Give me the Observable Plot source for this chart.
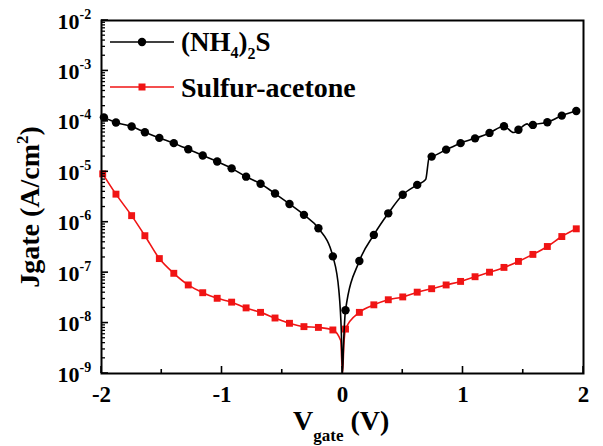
<!DOCTYPE html>
<html><head><meta charset="utf-8">
<script src="https://cdn.jsdelivr.net/npm/d3@7"></script>
<script src="https://cdn.jsdelivr.net/npm/@observablehq/plot@0.6"></script>
<style>
body{margin:0;background:#fff}
#chart{width:603px;height:446px}
</style>
</head><body><div id="chart"></div>
<script>
// (NH4)2S series: marker points
const nhV = [-1.98,-1.88,-1.75,-1.64,-1.52,-1.40,-1.28,-1.16,-1.04,-0.92,-0.80,-0.68,-0.56,-0.44,-0.32,-0.20,-0.08,0.025,0.14,0.26,0.38,0.50,0.62,0.74,0.86,0.98,1.10,1.22,1.34,1.46,1.58,1.70,1.82,1.94];
const nhJ = [1.2e-4,9.5e-5,7.9e-5,6.1e-5,4.7e-5,3.7e-5,2.8e-5,2.1e-5,1.6e-5,1.17e-5,8.0e-6,5.8e-6,3.7e-6,2.3e-6,1.4e-6,7.6e-7,2.1e-7,1.8e-8,1.7e-7,5.6e-7,1.5e-6,3.5e-6,5.5e-6,2.0e-5,2.75e-5,3.7e-5,4.6e-5,5.9e-5,8.0e-5,6.8e-5,8.5e-5,9.6e-5,1.3e-4,1.6e-4];
// (NH4)2S series: measured points between markers (line only)
const nhLineV = [-0.03,-0.01,0,0.008,0.69,0.72,1.42,1.533,1.56];
const nhLineJ = [4.4e-8,7e-9,1e-9,3.5e-9,7.0e-6,1.95e-5,6.0e-5,8.9e-5,7.9e-5];

// Sulfur-acetone series: marker points
const saV = [-1.99,-1.88,-1.75,-1.64,-1.52,-1.40,-1.28,-1.16,-1.04,-0.92,-0.80,-0.68,-0.56,-0.44,-0.32,-0.20,-0.08,0.025,0.14,0.26,0.38,0.50,0.62,0.74,0.86,0.98,1.10,1.22,1.34,1.46,1.58,1.70,1.82,1.94];
const saJ = [9.1e-6,3.6e-6,1.35e-6,5.4e-7,1.9e-7,9.7e-8,5.7e-8,4.0e-8,3.1e-8,2.6e-8,2.0e-8,1.63e-8,1.26e-8,9.9e-9,8.5e-9,8.2e-9,7.3e-9,7.6e-9,1.63e-8,2.3e-8,2.9e-8,3.3e-8,4.1e-8,4.8e-8,5.7e-8,6.7e-8,8.3e-8,1.02e-7,1.27e-7,1.67e-7,2.3e-7,3.3e-7,5.2e-7,7.4e-7];
const saLineV = [-0.015,0,0.012];
const saLineJ = [4.5e-9,1e-9,4e-9];

const seriesNames = ["(NH4)2S","Sulfur-acetone"];
const seriesColors = ["#000000","#f01414"];

const xTicks = [-2,-1,0,1,2];
const xMinorTicks = [-1.5,-0.5,0.5,1.5];
const yDecades = [1e-9,1e-8,1e-7,1e-6,1e-5,1e-4,1e-3,1e-2];
const yExponents = ["-9","-8","-7","-6","-5","-4","-3","-2"];

const FONT = "'Liberation Serif','Times New Roman',serif";

const toRows = (V, J, s) => V.map((v, i) => ({V: v, J: J[i], s}));
const nhMarkers = toRows(nhV, nhJ, seriesNames[0]);
const saMarkers = toRows(saV, saJ, seriesNames[1]);
const nhLine = nhMarkers.concat(toRows(nhLineV, nhLineJ, seriesNames[0])).sort((a,b)=>a.V-b.V);
const saLine = saMarkers.concat(toRows(saLineV, saLineJ, seriesNames[1])).sort((a,b)=>a.V-b.V);

const yMinor = [];
for (let k = -9; k < -2; k++) for (let m = 2; m <= 9; m++) yMinor.push(m * Math.pow(10, k));
const yLabelRows = yDecades.map((d, i) => ({d, e: yExponents[i]}));

const plot = Plot.plot({
  width: 603, height: 446,
  marginLeft: 101, marginRight: 20, marginTop: 20, marginBottom: 73,
  style: {fontFamily: FONT, background: "#fff", overflow: "visible"},
  x: {domain: [-2, 2], label: null, axis: null},
  y: {type: "log", domain: [1e-9, 1e-2], label: null, axis: null},
  marks: [
    Plot.line(saLine, {x: "V", y: "J", stroke: seriesColors[1], strokeWidth: 1.6, curve: "monotone-x", clip: true}),
    Plot.dot(saMarkers, {x: "V", y: "J", symbol: "square", r: 3.9, fill: seriesColors[1], stroke: "none"}),
    Plot.line(nhLine, {x: "V", y: "J", stroke: seriesColors[0], strokeWidth: 1.6, curve: "monotone-x", clip: true}),
    Plot.dot(nhMarkers, {x: "V", y: "J", r: 4.2, fill: seriesColors[0], stroke: "none"}),
    Plot.text(xTicks, {x: d => d, text: d => String(d), frameAnchor: "bottom", lineAnchor: "bottom", dy: 28, fontSize: 23, fontWeight: "bold", fill: "#000"}),
    Plot.text(yLabelRows, {y: "d", text: () => "10", frameAnchor: "left", textAnchor: "end", lineAnchor: "bottom", dx: -22, dy: 8, fontSize: 22, fontWeight: "bold", fill: "#000"}),
    Plot.text(yLabelRows, {y: "d", text: "e", frameAnchor: "left", textAnchor: "start", lineAnchor: "bottom", dx: -22, dy: -2, fontSize: 14, fontWeight: "bold", fill: "#000"}),
    Plot.frame({stroke: "#000", strokeWidth: 2})
  ]
});

document.getElementById("chart").appendChild(plot);

const svg = d3.select(plot);
const sx = plot.scale("x"), sy = plot.scale("y");
const [x0, x1] = sx.range, [y0, y1] = sy.range; // y0 bottom, y1 top

// inward ticks drawn with the plot's own scales
const tg = svg.append("g").attr("stroke", "#000").attr("stroke-width", 1.6);
xTicks.forEach(v => { const px = sx.apply(v); tg.append("line").attr("x1", px).attr("x2", px).attr("y1", y0).attr("y2", y0 - 7); });
xMinorTicks.forEach(v => { const px = sx.apply(v); tg.append("line").attr("x1", px).attr("x2", px).attr("y1", y0).attr("y2", y0 - 4); });
yDecades.forEach(v => { const py = sy.apply(v); tg.append("line").attr("x1", x0).attr("x2", x0 + 7).attr("y1", py).attr("y2", py); });
yMinor.forEach(v => { const py = sy.apply(v); tg.append("line").attr("x1", x0).attr("x2", x0 + 4).attr("y1", py).attr("y2", py).attr("stroke-width", 1.3); });

// Legend, axis titles (with sub/superscripts)
const g = svg.append("g").attr("font-family", FONT).attr("font-weight", "bold").attr("fill", "#000").attr("text-anchor", "start");

g.append("line").attr("x1", 110).attr("x2", 174).attr("y1", 42).attr("y2", 42).attr("stroke", seriesColors[0]).attr("stroke-width", 1.6);
g.append("circle").attr("cx", 142).attr("cy", 42).attr("r", 4.2).attr("fill", seriesColors[0]);
const t1 = g.append("text").attr("x", 181).attr("y", 51).attr("font-size", 27);
t1.append("tspan").text("(NH");
t1.append("tspan").attr("font-size", 16).attr("dy", 7).text("4");
t1.append("tspan").attr("dy", -7).text(")");
t1.append("tspan").attr("font-size", 16).attr("dy", 8).text("2");
t1.append("tspan").attr("dy", -8).text("S");

g.append("line").attr("x1", 110).attr("x2", 174).attr("y1", 87).attr("y2", 87).attr("stroke", seriesColors[1]).attr("stroke-width", 1.6);
g.append("rect").attr("x", 138.5).attr("y", 83.5).attr("width", 7).attr("height", 7).attr("fill", seriesColors[1]);
g.append("text").attr("x", 181).attr("y", 97).attr("font-size", 28).text(seriesNames[1]);

const xt = g.append("text").attr("x", 293).attr("y", 430).attr("font-size", 28);
xt.append("tspan").text("V");
xt.append("tspan").attr("font-size", 17).attr("dy", 11).text("gate");
xt.append("tspan").attr("dy", -11).text(" (V)");

const yt = g.append("text").attr("transform", "translate(39,207) rotate(-90)").attr("text-anchor", "middle").attr("font-size", 28);
yt.append("tspan").text("Jgate (A/cm");
yt.append("tspan").attr("font-size", 17).attr("dy", -11).text("2");
yt.append("tspan").attr("dy", 11).text(")");
</script>
</body></html>
